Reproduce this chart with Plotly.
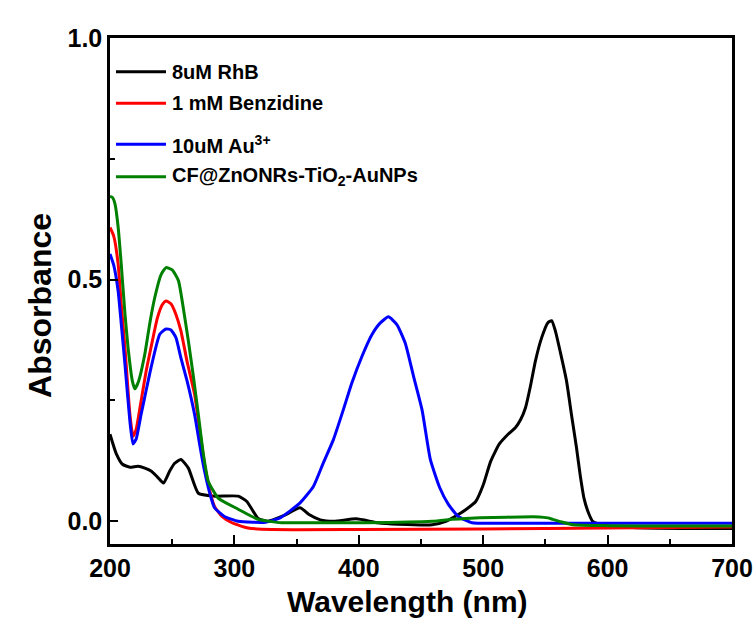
import plotly.graph_objects as go

# RhB (black)
rhb_x = [200, 205, 210, 216, 222.6, 228, 233, 238, 243, 248, 252, 257, 263, 271, 284, 303, 310, 319, 327, 340, 352.8, 360, 369, 380, 398, 415, 432, 459, 470, 480, 487, 494, 500, 506, 513, 520, 526, 530, 534, 538, 542, 547, 552, 555, 558, 562, 567, 571, 575, 578, 581, 585, 588, 595, 620, 660, 700]
rhb_y = [0.18, 0.14, 0.118, 0.112, 0.114, 0.11, 0.104, 0.092, 0.079, 0.104, 0.12, 0.128, 0.11, 0.058, 0.052, 0.052, 0.041, 0.006, 0.0, 0.012, 0.028, 0.014, 0.003, 0.0, 0.005, -0.003, -0.006, -0.007, 0.0, 0.014, 0.026, 0.041, 0.075, 0.124, 0.16, 0.18, 0.194, 0.21, 0.235, 0.28, 0.332, 0.38, 0.411, 0.415, 0.394, 0.35, 0.29, 0.22, 0.152, 0.095, 0.048, 0.015, 0.0, -0.008, -0.013, -0.015, -0.015]

# Benzidine (red)
ben_x = [200, 203, 206.5, 209, 212, 216, 218.5, 221, 225, 229, 233, 238, 242, 245, 249, 253, 257, 262, 268, 272, 276, 280, 284, 290, 298, 311, 330, 400, 500, 600, 700]
ben_y = [0.608, 0.59, 0.533, 0.45, 0.36, 0.221, 0.176, 0.19, 0.249, 0.31, 0.36, 0.42, 0.448, 0.456, 0.45, 0.428, 0.394, 0.33, 0.263, 0.19, 0.118, 0.065, 0.031, 0.01, -0.003, -0.014, -0.017, -0.017, -0.016, -0.014, -0.012]

# Au3+ (blue)
au_x = [200, 203, 206.5, 209, 212, 216, 218.5, 221, 225, 229, 233, 240, 245, 249, 253, 257, 262, 268, 272, 276, 280, 284, 292, 303, 315, 325, 336.7, 344, 352.8, 363.5, 371.5, 379.6, 387.6, 394.4, 402.5, 410.5, 417.1, 423.8, 430.6, 437.3, 444, 450.8, 457.5, 465, 472, 480, 491, 520, 600, 700]
au_y = [0.553, 0.53, 0.477, 0.41, 0.325, 0.207, 0.16, 0.17, 0.221, 0.27, 0.318, 0.387, 0.398, 0.396, 0.38, 0.338, 0.29, 0.221, 0.16, 0.104, 0.06, 0.028, 0.01, 0.0, -0.002, -0.002, 0.007, 0.02, 0.038, 0.072, 0.121, 0.169, 0.231, 0.286, 0.341, 0.386, 0.41, 0.423, 0.407, 0.369, 0.3, 0.231, 0.128, 0.07, 0.035, 0.01, -0.003, -0.004, -0.004, -0.004]

# CF@ZnONRs-TiO2-AuNPs (green)
cf_x = [200, 202, 204, 206.5, 209, 212, 214.5, 218, 220, 223, 228, 232, 236, 241, 245, 250, 255, 259, 263, 267, 271, 275, 279, 287, 303, 319, 338, 351.5, 405, 459, 475, 486, 508, 530, 545, 552, 556, 564, 572, 600, 650, 700]
cf_y = [0.672, 0.67, 0.657, 0.61, 0.533, 0.43, 0.36, 0.29, 0.274, 0.29, 0.346, 0.41, 0.463, 0.51, 0.525, 0.52, 0.498, 0.44, 0.373, 0.3, 0.221, 0.14, 0.083, 0.048, 0.025, 0.004, -0.003, -0.003, -0.003, 0.0, 0.004, 0.006, 0.008, 0.009, 0.009, 0.007, 0.004, -0.002, -0.007, -0.009, -0.01, -0.01]

names = ["8uM RhB", "1 mM Benzidine", "10uM Au<sup>3+</sup>", "CF@ZnONRs-TiO<sub>2</sub>-AuNPs"]
colors = ["#000000", "#ff0000", "#0000ff", "#008000"]
series = [(rhb_x, rhb_y), (ben_x, ben_y), (au_x, au_y), (cf_x, cf_y)]
x_ticks = [200, 300, 400, 500, 600, 700]
y_ticks = [0.0, 0.5, 1.0]

FONT = "Liberation Sans, Arial, sans-serif"
fig = go.Figure()
for (xs, ys), n, c in zip(series, names, colors):
    fig.add_trace(go.Scatter(x=xs, y=ys, mode="lines", name=n, showlegend=False,
                             line=dict(color=c, width=3, shape="spline", smoothing=0.5)))

# manual legend (paper coordinates)
leg_y = [0.9334, 0.871, 0.79, 0.726]
shapes = []
annotations = []
for n, c, yy in zip(names, colors, leg_y):
    shapes.append(dict(type="line", xref="paper", yref="paper", x0=0.0096, x1=0.09, y0=yy, y1=yy,
                       line=dict(color=c, width=3)))
    annotations.append(dict(xref="paper", yref="paper", x=0.097, y=yy, xanchor="left", yanchor="middle",
                            text="<b>" + n + "</b>", showarrow=False,
                            font=dict(family=FONT, size=20, color="black")))

annotations.append(dict(xref="paper", yref="paper", x=0.478, y=-0.114, xanchor="center", yanchor="middle",
                        text="<b>Wavelength (nm)</b>", showarrow=False,
                        font=dict(family=FONT, size=30, color="black")))
annotations.append(dict(xref="paper", yref="paper", x=-0.1125, y=0.4706, xanchor="center", yanchor="middle",
                        text="<b>Absorbance</b>", showarrow=False, textangle=-90,
                        font=dict(family=FONT, size=32, color="black")))

tickfont = dict(family=FONT, size=25, color="black")
fig.update_layout(
    width=756, height=618,
    margin=dict(l=110, r=24, t=38, b=74),
    paper_bgcolor="white", plot_bgcolor="white",
    font=dict(family=FONT, color="black"),
    showlegend=False,
    shapes=shapes, annotations=annotations,
    xaxis=dict(range=[200, 700], tickvals=x_ticks,
               ticktext=["<b>%d</b>" % v for v in x_ticks],
               ticks="inside", ticklen=9, tickwidth=2, tickcolor="black",
               minor=dict(ticks="inside", ticklen=5, tickwidth=2, dtick=50, tickcolor="black"),
               showline=True, linewidth=2.5, linecolor="black", mirror=True, showgrid=False, zeroline=False,
               tickfont=tickfont, automargin=False),
    yaxis=dict(range=[-0.047, 1.0], tickvals=y_ticks, ticktext=["<b>%.1f</b>" % v for v in y_ticks],
               ticks="inside", ticklen=8, tickwidth=2, tickcolor="black",
               minor=dict(ticks="inside", ticklen=5, tickwidth=2, tickvals=[0.25, 0.75], tickcolor="black"),
               showline=True, linewidth=2.5, linecolor="black", mirror=True, showgrid=False, zeroline=False,
               tickfont=tickfont, automargin=False),
)

fig.write_html("out.html")
